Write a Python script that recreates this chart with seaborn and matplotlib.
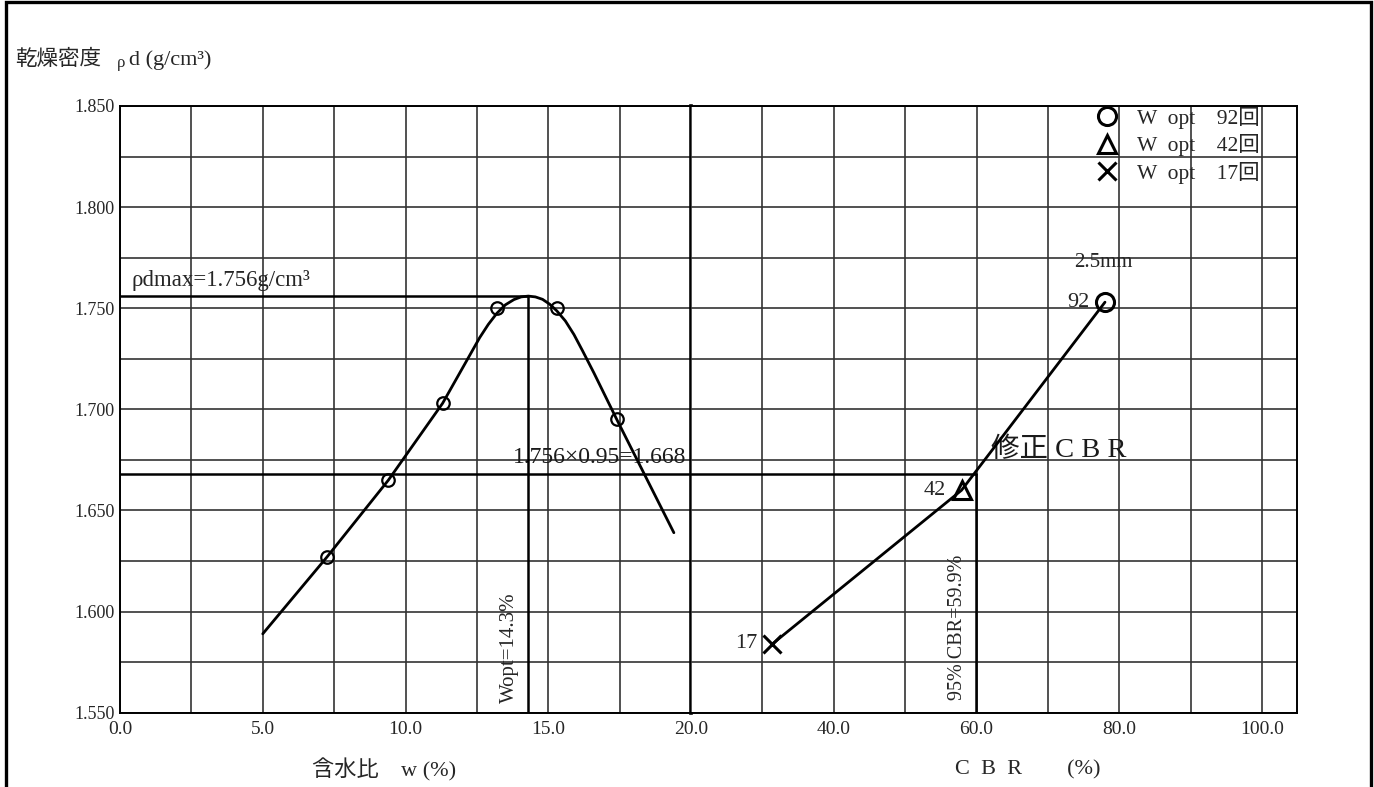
import matplotlib
matplotlib.use("Agg")
import matplotlib.pyplot as plt
from matplotlib.patches import Rectangle
from matplotlib.ticker import MultipleLocator
import seaborn as sns

# compaction test: sample points and the fitted curve
w_pts = [7.25, 9.4, 11.3, 13.2, 15.3, 17.4]
rho_pts = [1.627, 1.665, 1.703, 1.750, 1.750, 1.695]
curve_w = [5.0, 7.25, 9.4, 10.35, 11.3, 11.8, 12.3, 12.6, 12.9, 13.2, 13.5,
           13.8, 14.05, 14.3, 14.55, 14.8, 15.05, 15.3, 15.6, 15.9, 16.2,
           16.6, 17.0, 17.4, 17.9, 18.4, 18.9, 19.4]
curve_rho = [1.589, 1.627, 1.665, 1.684, 1.703, 1.7155, 1.728, 1.7355, 1.742,
             1.7475, 1.7517, 1.7543, 1.7556, 1.756, 1.7556, 1.7544, 1.752,
             1.7487, 1.7437, 1.737, 1.729, 1.718, 1.7065, 1.695, 1.681, 1.667,
             1.653, 1.639]

# CBR test, one point per number of blows
blows = [92, 42, 17]
cbr_vals = [78.0, 57.9, 31.4]
cbr_rho = [1.753, 1.660, 1.584]
cbr_markers = ["o", "^", "x"]

rho_max = 1.756
w_opt = 14.3
rho_95 = 1.668
cbr_95 = 59.9

sns.set_style("white")
plt.rcParams["font.family"] = ["Liberation Serif", "Noto Sans CJK JP"]

W, H = 1374, 787
fig = plt.figure(figsize=(W / 100, H / 100), dpi=100)
ax1 = fig.add_axes([120 / W, 1 - 712.7 / H, 571 / W, 606.7 / H])
ax2 = fig.add_axes([691 / W, 1 - 712.7 / H, 606 / W, 606.7 / H], sharey=ax1)

grid_kw = dict(color="#333333", lw=1.2)
thick = dict(color="black", lw=1.8, zorder=4)

for ax in (ax1, ax2):
    ax.set_ylim(1.550, 1.850)
    ax.yaxis.set_major_locator(MultipleLocator(0.05))
    ax.yaxis.set_minor_locator(MultipleLocator(0.025))
    ax.grid(True, which="both", **grid_kw)
    ax.tick_params(which="both", length=0, pad=6)
    ax.tick_params(axis="x", labelsize=14)
    ax.tick_params(axis="y", labelsize=13)
    for s in ax.spines.values():
        s.set_color("black")
        s.set_linewidth(1.4)

# left half: moisture content
ax1.set_xlim(0, 20)
ax1.xaxis.set_major_locator(MultipleLocator(5))
ax1.xaxis.set_minor_locator(MultipleLocator(2.5))
ax1.xaxis.set_major_formatter(lambda v, p: f"{v:.1f}")
ax1.yaxis.set_major_formatter(lambda v, p: f"{v:.3f}")
ax1.tick_params(axis="y", pad=4)
ax1.spines["right"].set_linewidth(2.6)

sns.lineplot(x=curve_w, y=curve_rho, ax=ax1, color="black", lw=2.0,
             sort=False, estimator=None, zorder=5, solid_joinstyle="round")
ax1.plot(w_pts, rho_pts, ls="", marker="o", ms=9, mfc="none", mec="black",
         mew=1.6, zorder=6)

ax1.plot([0, w_opt], [rho_max, rho_max], **thick)
ax1.plot([w_opt, w_opt], [1.550, rho_max], **thick)
ax1.plot([0, 20], [rho_95, rho_95], **thick)

ax1.text(0.4, 1.7635, "ρdmax=1.756g/cm³", fontsize=16.5, ha="left", va="center")
ax1.text(16.8, 1.6764, "1.756×0.95=1.668", fontsize=17, ha="center",
         va="center", color="#1a1a1a")
ax1.text(13.65, 1.5548, "Wopt=14.3%", fontsize=15, rotation=90,
         ha="center", va="bottom")

ax1.set_xlabel("含水比　w (%)", fontsize=16)
ax1.xaxis.set_label_coords(0.462, -0.094)
ax1.xaxis.label.set_va("center")

# right half: CBR
ax2.set_xlim(20, 104.9)
ax2.set_xticks([20, 40, 60, 80, 100])
ax2.set_xticklabels(["", "40.0", "60.0", "80.0", "100.0"])
ax2.xaxis.set_minor_locator(MultipleLocator(10))
ax2.tick_params(axis="y", labelleft=False)
ax2.spines["left"].set_visible(False)

sns.lineplot(x=cbr_vals, y=cbr_rho, ax=ax2, color="black", lw=2.0,
             sort=False, estimator=None, zorder=5)
handles = []
for b, c, r, m in zip(blows, cbr_vals, cbr_rho, cbr_markers):
    h, = ax2.plot([c], [r], ls="", marker=m, ms=13, mfc="none", mec="black",
                  mew=2.2, zorder=6, label=f"W  opt    {b}回")
    handles.append(h)
    ax2.annotate(str(b), (c, r), xytext=(-11, 0), textcoords="offset points",
                 ha="right", va="center", fontsize=16)

ax2.plot([20, cbr_95], [rho_95, rho_95], **thick)
ax2.plot([cbr_95, cbr_95], [1.550, rho_95], **thick)

ax2.text(57.35, 1.5563, "95% CBR=59.9%", fontsize=14.5, rotation=90,
         ha="center", va="bottom")
ax2.text(62.0, 1.680, "修正 C B R", fontsize=20.5, ha="left", va="center",
         color="#1a1a1a")
ax2.text(77.7, 1.7724, "2.5mm", fontsize=15, ha="center", va="center")

ax2.legend(handles=handles, loc="upper left", bbox_to_anchor=(0.669, 0.9985),
           frameon=False, fontsize=15.5, handlelength=1.0, handletextpad=0.9,
           borderpad=0, borderaxespad=0, labelspacing=0.25)

ax2.set_xlabel("C  B  R        (%)", fontsize=16)
ax2.xaxis.set_label_coords(0.555, -0.094)
ax2.xaxis.label.set_va("center")

# y-axis title
fig.text(15 / W, 1 - 60 / H, "乾燥密度", fontsize=15.5, ha="left", va="center")
fig.text(117 / W, 1 - 63 / H, "ρ", fontsize=12, ha="left", va="center")
fig.text(129 / W, 1 - 60 / H, "d (g/cm³)", fontsize=16, ha="left", va="center")

# sheet frame
fig.add_artist(Rectangle((5.5 / W, -0.02), 1365.5 / W, 1.02 - 1.5 / H,
                         transform=fig.transFigure, fill=False,
                         ec="black", lw=2.4))

fig.savefig("out.png", dpi=100)
